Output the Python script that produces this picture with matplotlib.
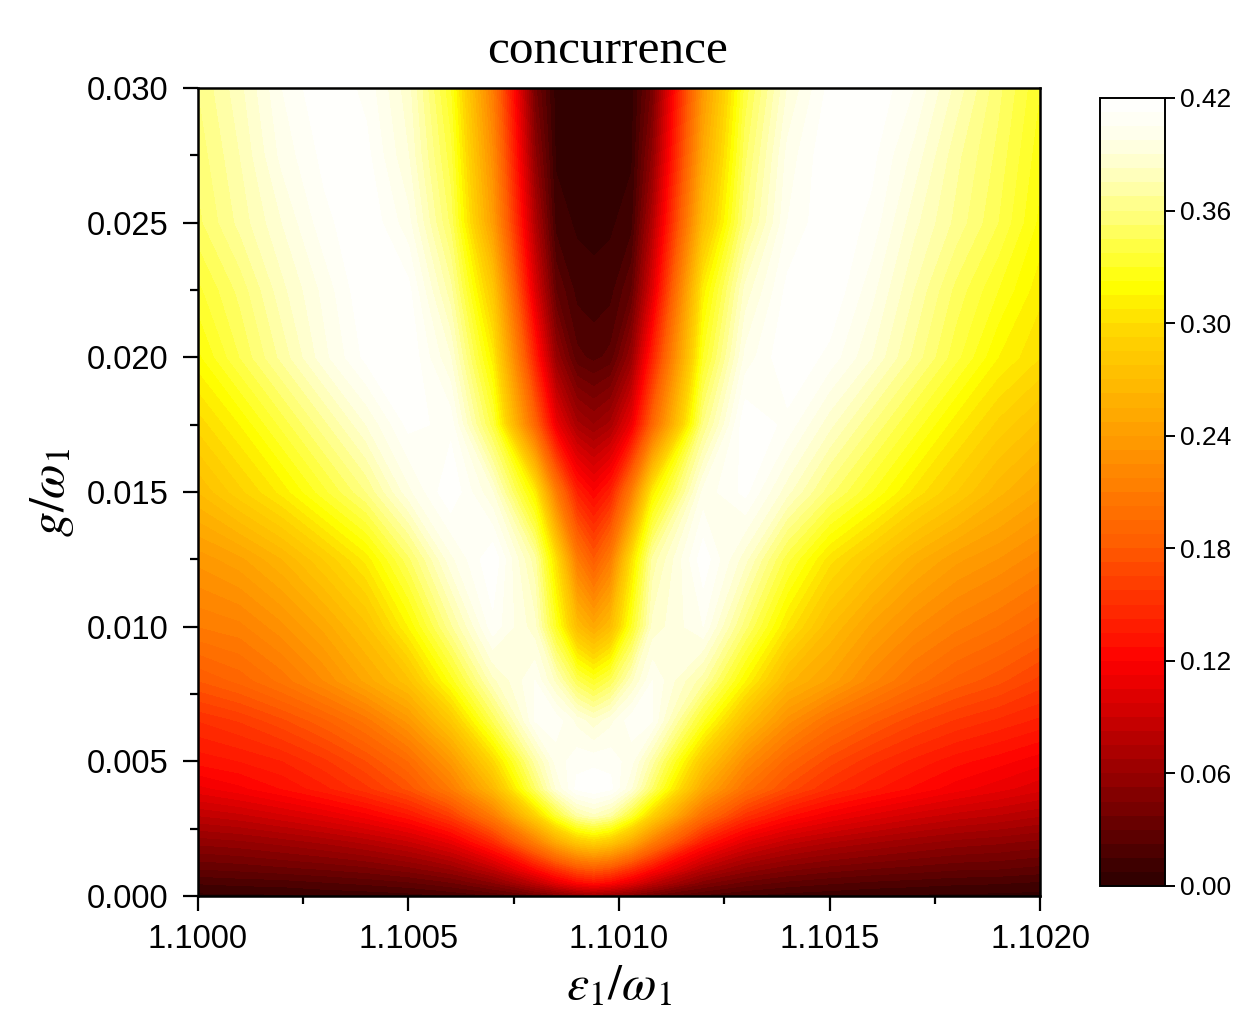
import numpy as np
import matplotlib
matplotlib.use("Agg")
import matplotlib.pyplot as plt
from matplotlib.colors import LinearSegmentedColormap
from matplotlib.ticker import MultipleLocator, FormatStrFormatter

plt.rcParams['font.family'] = ['Liberation Sans', 'DejaVu Sans']
plt.rcParams['mathtext.fontset'] = 'stix'

# epsilon_1 / omega_1 sample positions (columns)
eps = [1.1000, 1.1001, 1.1002, 1.1003, 1.1004, 1.1005, 1.1006, 1.1007, 1.1008,
       1.10085, 1.1009, 1.10094, 1.10098, 1.10103, 1.10108, 1.1012, 1.1013,
       1.1014, 1.1015, 1.1016, 1.1017, 1.1018, 1.1019, 1.1020]

# g / omega_1 sample positions (rows)
g = [0.0, 0.0005, 0.001, 0.002, 0.003, 0.004, 0.005, 0.0065, 0.008, 0.010,
     0.0125, 0.015, 0.0175, 0.020, 0.0225, 0.025, 0.0275, 0.030]

# concurrence, one row per g value
row_g0000 = [0.005, 0.005, 0.006, 0.008, 0.009, 0.011, 0.015, 0.022, 0.035, 0.045, 0.055, 0.06,
             0.055, 0.045, 0.035, 0.02, 0.014, 0.011, 0.009, 0.007, 0.006, 0.005, 0.005, 0.004]
row_g0005 = [0.016, 0.018, 0.019, 0.022, 0.025, 0.029, 0.037, 0.052, 0.083, 0.105, 0.123, 0.13,
             0.123, 0.105, 0.083, 0.048, 0.035, 0.028, 0.024, 0.021, 0.019, 0.017, 0.016, 0.014]
row_g0010 = [0.030, 0.032, 0.035, 0.038, 0.042, 0.049, 0.060, 0.083, 0.125, 0.15, 0.172, 0.18,
             0.172, 0.15, 0.125, 0.077, 0.057, 0.047, 0.041, 0.037, 0.034, 0.031, 0.030, 0.027]
row_g0020 = [0.055, 0.058, 0.063, 0.069, 0.077, 0.088, 0.107, 0.145, 0.21, 0.25, 0.28, 0.29,
             0.28, 0.25, 0.21, 0.135, 0.102, 0.085, 0.075, 0.068, 0.062, 0.057, 0.054, 0.05]
row_g0030 = [0.083, 0.088, 0.096, 0.105, 0.117, 0.133, 0.16, 0.21, 0.29, 0.335, 0.37, 0.38,
             0.37, 0.335, 0.29, 0.198, 0.153, 0.129, 0.114, 0.103, 0.094, 0.087, 0.082, 0.076]
row_g0040 = [0.11, 0.118, 0.128, 0.14, 0.155, 0.175, 0.21, 0.265, 0.35, 0.39, 0.415, 0.42,
             0.415, 0.39, 0.35, 0.25, 0.20, 0.17, 0.15, 0.137, 0.126, 0.116, 0.108, 0.10]
row_g0050 = [0.13, 0.135, 0.142, 0.155, 0.172, 0.195, 0.235, 0.295, 0.37, 0.40, 0.41, 0.41,
             0.41, 0.40, 0.37, 0.28, 0.225, 0.19, 0.168, 0.152, 0.14, 0.13, 0.123, 0.115]
row_g0065 = [0.15, 0.158, 0.17, 0.185, 0.205, 0.235, 0.28, 0.345, 0.405, 0.41, 0.395, 0.385,
             0.395, 0.41, 0.405, 0.33, 0.27, 0.228, 0.20, 0.182, 0.167, 0.156, 0.148, 0.14]
row_g0080 = [0.18, 0.19, 0.205, 0.225, 0.25, 0.275, 0.325, 0.38, 0.405, 0.38, 0.345, 0.33,
             0.345, 0.38, 0.405, 0.37, 0.315, 0.265, 0.245, 0.22, 0.20, 0.185, 0.175, 0.162]
row_g0100 = [0.21, 0.215, 0.23, 0.25, 0.275, 0.315, 0.365, 0.41, 0.385, 0.33, 0.27, 0.25,
             0.27, 0.33, 0.385, 0.405, 0.355, 0.305, 0.27, 0.245, 0.226, 0.212, 0.202, 0.19]
row_g0125 = [0.235, 0.245, 0.262, 0.285, 0.31, 0.35, 0.395, 0.42, 0.37, 0.30, 0.21, 0.18,
             0.21, 0.30, 0.37, 0.418, 0.385, 0.34, 0.303, 0.28, 0.258, 0.242, 0.232, 0.22]
row_g0150 = [0.27, 0.29, 0.31, 0.335, 0.36, 0.395, 0.42, 0.39, 0.31, 0.21, 0.14, 0.12,
             0.14, 0.21, 0.31, 0.40, 0.415, 0.385, 0.355, 0.33, 0.305, 0.285, 0.265, 0.25]
row_g0175 = [0.295, 0.315, 0.34, 0.365, 0.39, 0.415, 0.41, 0.34, 0.19, 0.11, 0.07, 0.06,
             0.07, 0.11, 0.19, 0.36, 0.42, 0.41, 0.385, 0.36, 0.335, 0.31, 0.29, 0.275]
row_g0200 = [0.32, 0.345, 0.37, 0.395, 0.415, 0.42, 0.39, 0.31, 0.14, 0.06, 0.025, 0.02,
             0.025, 0.06, 0.14, 0.33, 0.40, 0.42, 0.41, 0.39, 0.365, 0.34, 0.315, 0.30]
row_g0225 = [0.335, 0.355, 0.38, 0.40, 0.42, 0.415, 0.37, 0.28, 0.10, 0.03, 0.012, 0.01,
             0.012, 0.03, 0.10, 0.31, 0.385, 0.415, 0.42, 0.40, 0.375, 0.35, 0.33, 0.31]
row_g0250 = [0.35, 0.37, 0.39, 0.41, 0.42, 0.40, 0.35, 0.24, 0.075, 0.012, 0.006, 0.005,
             0.006, 0.012, 0.075, 0.27, 0.36, 0.405, 0.42, 0.41, 0.385, 0.365, 0.345, 0.32]
row_g0275 = [0.355, 0.375, 0.40, 0.415, 0.415, 0.39, 0.34, 0.225, 0.055, 0.006, 0.004, 0.004,
             0.004, 0.006, 0.055, 0.25, 0.35, 0.40, 0.42, 0.415, 0.395, 0.37, 0.35, 0.325]
row_g0300 = [0.36, 0.38, 0.405, 0.42, 0.41, 0.385, 0.33, 0.21, 0.04, 0.004, 0.003, 0.003,
             0.003, 0.004, 0.04, 0.235, 0.34, 0.39, 0.415, 0.42, 0.405, 0.38, 0.355, 0.33]

conc = np.array([row_g0000, row_g0005, row_g0010, row_g0020, row_g0030, row_g0040,
                 row_g0050, row_g0065, row_g0080, row_g0100, row_g0125, row_g0150,
                 row_g0175, row_g0200, row_g0225, row_g0250, row_g0275, row_g0300])

cbar_ticks = [0.00, 0.06, 0.12, 0.18, 0.24, 0.30, 0.36, 0.42]

cmap = LinearSegmentedColormap.from_list(
    "fire",
    [(0.0, "#2c0000"), (0.06 / 0.42, "#990000"), (0.12 / 0.42, "#ff0000"),
     (0.18 / 0.42, "#ff5a00"), (0.24 / 0.42, "#ff9c00"), (0.30 / 0.42, "#ffdc00"),
     (0.32 / 0.42, "#ffff00"), (0.34 / 0.42, "#ffff40"), (0.36 / 0.42, "#ffff80"),
     (0.38 / 0.42, "#ffffc0"), (0.40 / 0.42, "#ffffea"), (1.0, "#ffffff")])

fig = plt.figure(figsize=(12.38, 10.26), dpi=100)
ax = fig.add_axes([0.1599, 0.1267, 0.6802, 0.7875])
cax = fig.add_axes([0.8885, 0.1365, 0.0525, 0.768])

levels = np.linspace(0, 0.42, 57)
cs = ax.contourf(eps, g, conc, levels=levels, cmap=cmap)

ax.set_xlim(1.1000, 1.1020)
ax.set_ylim(0.0, 0.030)
ax.xaxis.set_major_locator(MultipleLocator(0.0005))
ax.xaxis.set_minor_locator(MultipleLocator(0.00025))
ax.yaxis.set_major_locator(MultipleLocator(0.005))
ax.yaxis.set_minor_locator(MultipleLocator(0.0025))
ax.xaxis.set_major_formatter(FormatStrFormatter('%.4f'))
ax.yaxis.set_major_formatter(FormatStrFormatter('%.3f'))
ax.tick_params(which='major', direction='out', length=11, width=1.6, labelsize=23.5)
ax.tick_params(which='minor', direction='out', length=6, width=1.6)
ax.tick_params(axis='y', which='major', pad=10)
ax.tick_params(axis='x', which='major', pad=9)
for s in ax.spines.values():
    s.set_linewidth(1.8)

ax.set_xlabel(r'$\epsilon_1/\omega_1$', fontsize=36, labelpad=6)
ax.set_ylabel(r'$g/\omega_1$', fontsize=36, labelpad=8)
ax.set_title('concurrence', fontsize=35.5, family=['Liberation Serif', 'DejaVu Serif'],
             pad=18, x=0.487)

cb = fig.colorbar(cs, cax=cax, ticks=cbar_ticks)
cb.ax.set_ylim(0, 0.42)
cb.ax.yaxis.set_major_formatter(FormatStrFormatter('%.2f'))
cb.ax.tick_params(direction='out', length=7, width=1.4, labelsize=19, pad=4)
cb.outline.set_linewidth(1.4)
cb.ax.minorticks_off()

fig.savefig("out.png", dpi=100)
